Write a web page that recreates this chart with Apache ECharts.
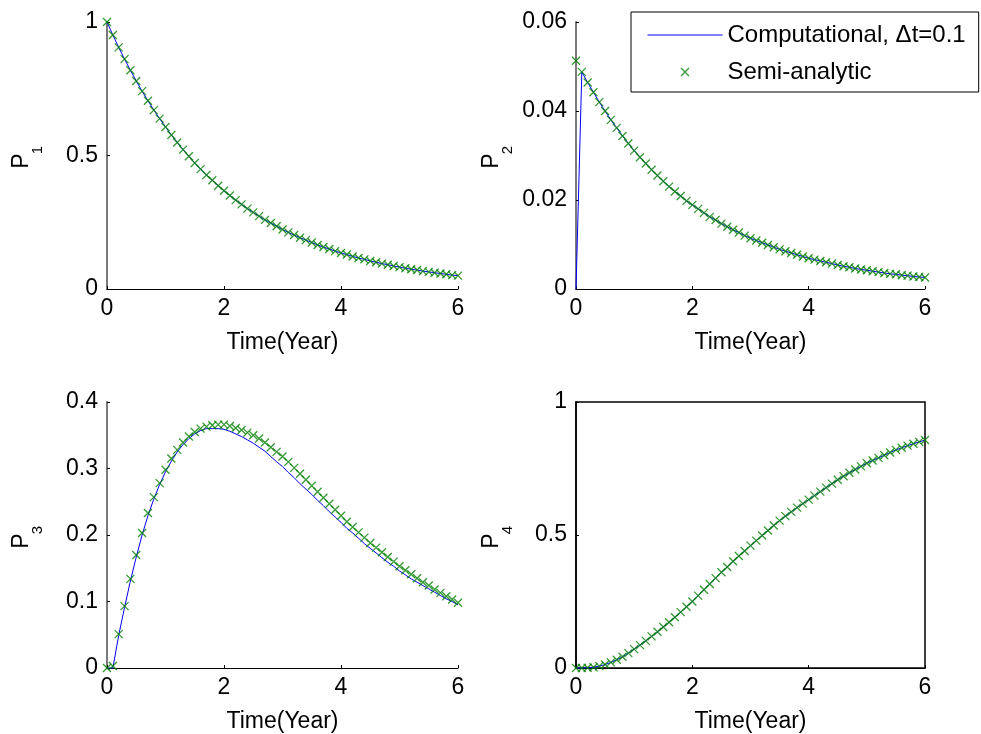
<!DOCTYPE html>
<html><head><meta charset="utf-8">
<script src="https://cdn.jsdelivr.net/npm/echarts@6/dist/echarts.min.js"></script>
<style>html,body{margin:0;padding:0;background:#fff}#c{width:981px;height:734px}</style>
</head><body><div id="c"></div>
<script>
const time = [0,0.1,0.2,0.3,0.4,0.5,0.6,0.7,0.8,0.9,1,1.1,1.2,1.3,1.4,1.5,1.6,1.7,1.8,1.9,2,2.1,2.2,2.3,2.4,2.5,2.6,2.7,2.8,2.9,3,3.1,3.2,3.3,3.4,3.5,3.6,3.7,3.8,3.9,4,4.1,4.2,4.3,4.4,4.5,4.6,4.7,4.8,4.9,5,5.1,5.2,5.3,5.4,5.5,5.6,5.7,5.8,5.9,6];
const p1Semi = [1.000,0.951,0.905,0.861,0.819,0.779,0.741,0.705,0.670,0.638,0.607,0.577,0.549,0.522,0.497,0.472,0.449,0.427,0.407,0.387,0.368,0.350,0.333,0.317,0.301,0.287,0.273,0.259,0.247,0.235,0.223,0.212,0.202,0.192,0.183,0.174,0.165,0.157,0.150,0.142,0.135,0.129,0.122,0.116,0.111,0.105,0.100,0.095,0.091,0.086,0.082,0.078,0.074,0.071,0.067,0.064,0.061,0.058,0.055,0.052,0.050];
const p1Comp = [1.000,0.951,0.905,0.861,0.819,0.779,0.741,0.705,0.670,0.638,0.607,0.577,0.549,0.522,0.497,0.472,0.449,0.427,0.407,0.387,0.368,0.350,0.333,0.317,0.301,0.287,0.273,0.259,0.247,0.235,0.223,0.212,0.202,0.192,0.183,0.174,0.165,0.157,0.150,0.142,0.135,0.129,0.122,0.116,0.111,0.105,0.100,0.095,0.091,0.086,0.082,0.078,0.074,0.071,0.067,0.064,0.061,0.058,0.055,0.052,0.050];
const p2Semi = [0.0513,0.0488,0.0464,0.0442,0.0420,0.0400,0.0380,0.0362,0.0344,0.0327,0.0311,0.0296,0.0282,0.0268,0.0255,0.0242,0.0230,0.0219,0.0209,0.0198,0.0189,0.0180,0.0171,0.0162,0.0155,0.0147,0.0140,0.0133,0.0127,0.0120,0.0114,0.0109,0.0104,0.0099,0.0094,0.0089,0.0085,0.0081,0.0077,0.0073,0.0069,0.0066,0.0063,0.0060,0.0057,0.0054,0.0051,0.0049,0.0046,0.0044,0.0042,0.0040,0.0038,0.0036,0.0034,0.0033,0.0031,0.0030,0.0028,0.0027,0.0026];
const p2Comp = [0,0.0488,0.0464,0.0442,0.0420,0.0400,0.0380,0.0362,0.0344,0.0327,0.0311,0.0296,0.0282,0.0268,0.0255,0.0242,0.0230,0.0219,0.0209,0.0198,0.0189,0.0180,0.0171,0.0162,0.0155,0.0147,0.0140,0.0133,0.0127,0.0120,0.0114,0.0109,0.0104,0.0099,0.0094,0.0089,0.0085,0.0081,0.0077,0.0073,0.0069,0.0066,0.0063,0.0060,0.0057,0.0054,0.0051,0.0049,0.0046,0.0044,0.0042,0.0040,0.0038,0.0036,0.0034,0.0033,0.0031,0.0030,0.0028,0.0027,0.0026];
const p3Semi = [0.000,0.003,0.051,0.093,0.134,0.170,0.203,0.233,0.257,0.278,0.298,0.315,0.328,0.339,0.348,0.355,0.360,0.363,0.365,0.366,0.366,0.364,0.361,0.358,0.354,0.350,0.345,0.339,0.332,0.325,0.318,0.310,0.301,0.292,0.283,0.274,0.265,0.256,0.247,0.238,0.229,0.220,0.212,0.204,0.196,0.188,0.181,0.174,0.167,0.160,0.153,0.147,0.141,0.135,0.129,0.124,0.118,0.113,0.108,0.103,0.098];
const p3Comp = [0.000,0.000,0.049,0.091,0.131,0.167,0.200,0.229,0.254,0.276,0.295,0.311,0.325,0.336,0.345,0.352,0.357,0.360,0.360,0.360,0.359,0.356,0.352,0.348,0.343,0.338,0.332,0.326,0.318,0.310,0.303,0.294,0.286,0.277,0.269,0.261,0.252,0.244,0.235,0.227,0.219,0.210,0.203,0.195,0.187,0.180,0.173,0.166,0.159,0.153,0.146,0.140,0.134,0.129,0.124,0.119,0.114,0.109,0.104,0.100,0.095];
const p4Semi = [0.000,0.000,0.001,0.003,0.007,0.013,0.021,0.031,0.042,0.056,0.071,0.086,0.102,0.119,0.136,0.154,0.172,0.191,0.210,0.230,0.250,0.272,0.294,0.316,0.338,0.360,0.380,0.401,0.421,0.440,0.460,0.479,0.498,0.517,0.536,0.554,0.571,0.587,0.603,0.618,0.633,0.648,0.663,0.678,0.693,0.708,0.721,0.734,0.746,0.758,0.770,0.780,0.790,0.800,0.810,0.820,0.828,0.836,0.843,0.850,0.857];
const p4Comp = [0.000,0.000,0.001,0.003,0.007,0.013,0.021,0.031,0.042,0.056,0.071,0.086,0.102,0.119,0.136,0.154,0.172,0.191,0.210,0.230,0.250,0.272,0.294,0.316,0.338,0.360,0.380,0.401,0.421,0.440,0.460,0.479,0.498,0.517,0.536,0.554,0.571,0.587,0.603,0.618,0.633,0.648,0.663,0.678,0.693,0.708,0.721,0.734,0.746,0.758,0.770,0.780,0.790,0.800,0.810,0.820,0.828,0.836,0.843,0.850,0.857];
const xTicks = [0, 6, 2];            // min, max, interval
const yRanges = [[0,1,0.5],[0,0.06,0.02],[0,0.4,0.1],[0,1,0.5]];
const yNames = [['P','1'],['P','2'],['P','3'],['P','4']];
const compName = 'Computational, \u0394t=0.1';
const semiName = 'Semi-analytic';

const FONT = '"Liberation Sans", Arial, Helvetica, sans-serif';
const xPath = 'path://M0,0L10,10M10,0L0,10';
const grids = [
  {left:107, top:22, width:351, height:267},
  {left:576, top:22, width:349, height:267},
  {left:107, top:402, width:351, height:267},
  {left:576, top:402, width:349, height:267, show:true, borderColor:'#000', borderWidth:1.5}
];
const comp = [p1Comp, p2Comp, p3Comp, p4Comp];
const semi = [p1Semi, p2Semi, p3Semi, p4Semi];
const pairs = arr => arr.map((v, i) => [time[i], v]);

const xAxes = grids.map((g, i) => ({
  type:'value', gridIndex:i, min:xTicks[0], max:xTicks[1], interval:xTicks[2],
  name:'Time(Year)', nameLocation:'middle', nameGap:42,
  nameTextStyle:{fontFamily:FONT, fontSize:23, color:'#000'},
  axisLine:{show:true, lineStyle:{color:'#000', width:1}},
  axisTick:{show:true, inside:true, length:3, lineStyle:{color:'#000'}},
  axisLabel:{fontFamily:FONT, fontSize:23, color:'#000', margin:8},
  splitLine:{show:false}
}));
const yAxes = grids.map((g, i) => ({
  type:'value', gridIndex:i, min:yRanges[i][0], max:yRanges[i][1], interval:yRanges[i][2],
  axisLine:{show:true, lineStyle:{color: i===3 ? '#000' : '#7a7a7a', width: i===3 ? 1.5 : 2}},
  axisTick:{show:true, inside:true, length:3, lineStyle:{color:'#000'}},
  axisLabel:{fontFamily:FONT, fontSize:23, color:'#000', margin:9,
    formatter: v => String(Math.round(v*1000)/1000)},
  splitLine:{show:false}
}));
const series = [];
for (let i = 0; i < 4; i++) {
  series.push({type:'line', name:compName, xAxisIndex:i, yAxisIndex:i, data:pairs(comp[i]),
    symbol:'none', showSymbol:false, clip:false, lineStyle:{color:'#0000ff', width:1}, itemStyle:{color:'#0000ff'}, z:2});
  series.push({type:'scatter', name:semiName, xAxisIndex:i, yAxisIndex:i, data:pairs(semi[i]),
    symbol:xPath, symbolSize:8, clip:false,
    itemStyle:{color:'rgba(0,0,0,0)', borderColor:'#008000', borderWidth:1.3}, z:3});
}
const namePos = [[22,161],[492,161],[22,541],[492,541]];
const graphic = [];
namePos.forEach((p, i) => {
  graphic.push({type:'text', x:p[0], y:p[1], rotation:Math.PI/2, z:10,
    style:{text:yNames[i][0], font:'23px ' + FONT, fill:'#000', textAlign:'center', textVerticalAlign:'middle', verticalAlign:'middle'}});
  graphic.push({type:'text', x:p[0]+16, y:p[1]-11, rotation:Math.PI/2, z:10,
    style:{text:yNames[i][1], font:'15px ' + FONT, fill:'#000', textAlign:'center', textVerticalAlign:'middle', verticalAlign:'middle'}});
});

const chart = echarts.init(document.getElementById('c'), null, {renderer:'canvas'});
chart.setOption({
  animation:false,
  backgroundColor:'#fff',
  grid:grids, xAxis:xAxes, yAxis:yAxes, series:series, graphic:graphic,
  legend:{
    data:[
      {name:compName, itemStyle:{opacity:0}, lineStyle:{width:1, color:'#0000ff'}},
      {name:semiName, icon:xPath, itemStyle:{color:'rgba(0,0,0,0)', borderColor:'#008000', borderWidth:1.3}}
    ],
    orient:'vertical', left:631, top:12, padding:[11,13,8,16],
    itemWidth:75, itemHeight:8, itemGap:13, selectedMode:false,
    borderColor:'#000', borderWidth:1, backgroundColor:'#fff',
    lineStyle:{width:1},
    textStyle:{fontFamily:FONT, fontSize:24, color:'#000'}
  }
});
</script></body></html>
